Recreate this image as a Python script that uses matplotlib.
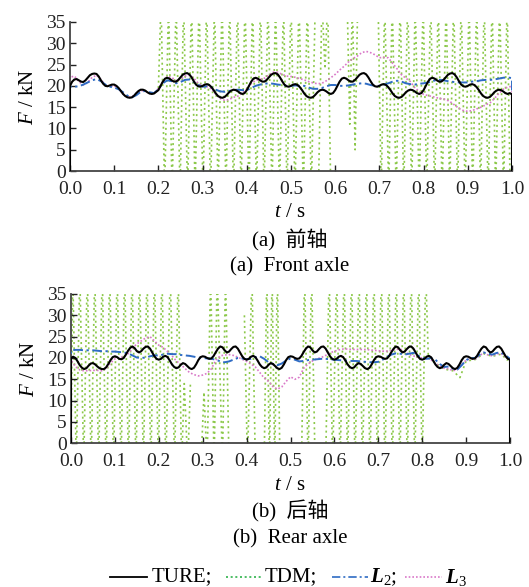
import numpy as np
import matplotlib
matplotlib.use("Agg")
import matplotlib.pyplot as plt
from matplotlib.lines import Line2D

plt.rcParams['font.family'] = ['Liberation Serif', 'Noto Sans CJK SC', 'DejaVu Sans']
plt.rcParams['mathtext.fontset'] = 'custom'
plt.rcParams['mathtext.rm'] = 'Liberation Serif'
plt.rcParams['mathtext.it'] = 'Liberation Serif:italic'
plt.rcParams['mathtext.bf'] = 'Liberation Serif:bold:italic'

# ---------------- data ----------------
x_ticks = [0.0, 0.1, 0.2, 0.3, 0.4, 0.5, 0.6, 0.7, 0.8, 0.9, 1.0]
y_ticks = [0, 5, 10, 15, 20, 25, 30, 35]

# TURE, sampled every 0.005 s from 0 to 1 s (front axle)
ture_front = [
    20.0, 21.0, 21.5, 21.6, 21.3, 21.0, 20.9, 21.3, 21.9, 22.5,
    22.8, 22.9, 22.8, 22.2, 21.3, 20.5, 20.0, 19.9, 20.1, 20.3,
    20.3, 20.0, 19.5, 18.8, 18.1, 17.6, 17.3, 17.2, 17.3, 17.7,
    18.3, 18.8, 19.1, 19.1, 18.9, 18.5, 18.2, 18.1, 18.2, 18.6,
    19.0, 20.0, 21.0, 21.7, 21.9, 21.7, 21.3, 21.0, 21.0, 21.4,
    22.0, 22.6, 22.9, 23.0, 22.7, 22.0, 21.1, 20.3, 19.9, 19.8,
    20.0, 20.3, 20.4, 20.2, 19.7, 19.0, 18.2, 17.6, 17.3, 17.2,
    17.4, 17.9, 18.5, 18.9, 19.1, 19.0, 18.7, 18.3, 18.1, 18.3,
    19.0, 20.0, 21.0, 21.7, 21.9, 21.7, 21.3, 21.0, 21.0, 21.4,
    22.0, 22.6, 22.9, 23.0, 22.7, 22.0, 21.1, 20.3, 19.9, 19.8,
    20.0, 20.3, 20.4, 20.2, 19.7, 19.0, 18.2, 17.6, 17.3, 17.2,
    17.4, 17.9, 18.5, 18.9, 19.1, 19.0, 18.7, 18.3, 18.1, 18.3,
    19.0, 20.0, 21.0, 21.7, 21.9, 21.7, 21.3, 21.0, 21.0, 21.4,
    22.0, 22.6, 22.9, 23.0, 22.7, 22.0, 21.1, 20.3, 19.9, 19.8,
    20.0, 20.3, 20.4, 20.2, 19.7, 19.0, 18.2, 17.6, 17.3, 17.2,
    17.4, 17.9, 18.5, 18.9, 19.1, 19.0, 18.7, 18.3, 18.1, 18.3,
    19.0, 20.0, 21.0, 21.7, 21.9, 21.7, 21.3, 21.0, 21.0, 21.4,
    22.0, 22.6, 22.9, 23.0, 22.7, 22.0, 21.1, 20.3, 19.9, 19.8,
    20.0, 20.3, 20.4, 20.2, 19.7, 19.0, 18.2, 17.6, 17.3, 17.2,
    17.4, 17.9, 18.5, 18.9, 19.1, 19.0, 18.7, 18.3, 18.1, 18.3,
    18.0]

# TURE, sampled every 0.005 s (rear axle)
ture_rear = [
    20.0, 20.3, 20.0, 19.2, 18.3, 17.7, 17.4, 17.6, 18.2, 18.7,
    18.8, 18.5, 18.0, 17.6, 17.4, 17.4, 17.8, 18.6, 19.5, 20.2,
    20.4, 20.2, 19.8, 19.7, 20.0, 20.8, 21.7, 22.4, 22.7, 22.3,
    21.6, 21.3, 21.6, 22.2, 22.6, 22.7, 22.2, 21.3, 20.4, 19.8,
    19.6, 19.8, 20.3, 20.5, 20.2, 19.4, 18.5, 17.9, 17.6, 17.8,
    18.4, 18.8, 18.6, 18.1, 17.6, 17.4, 17.7, 18.5, 19.5, 20.2,
    20.4, 20.3, 20.0, 19.8, 19.9, 20.5, 21.4, 22.2, 22.7, 22.5,
    21.8, 21.3, 21.5, 22.1, 22.6, 22.7, 22.2, 21.3, 20.4, 19.8,
    19.6, 19.8, 20.3, 20.5, 20.2, 19.4, 18.5, 17.9, 17.6, 17.8,
    18.4, 18.8, 18.6, 18.1, 17.6, 17.4, 17.7, 18.5, 19.5, 20.2,
    20.4, 20.3, 20.0, 19.8, 19.9, 20.5, 21.4, 22.2, 22.7, 22.5,
    21.8, 21.3, 21.5, 22.1, 22.6, 22.7, 22.2, 21.3, 20.4, 19.8,
    19.6, 19.8, 20.3, 20.5, 20.2, 19.4, 18.5, 17.9, 17.6, 17.8,
    18.4, 18.8, 18.6, 18.1, 17.6, 17.4, 17.7, 18.5, 19.5, 20.2,
    20.4, 20.3, 20.0, 19.8, 19.9, 20.5, 21.4, 22.2, 22.7, 22.5,
    21.8, 21.3, 21.5, 22.1, 22.6, 22.7, 22.2, 21.3, 20.4, 19.8,
    19.6, 19.8, 20.3, 20.5, 20.2, 19.4, 18.5, 17.9, 17.6, 17.8,
    18.4, 18.8, 18.6, 18.1, 17.6, 17.4, 17.7, 18.5, 19.5, 20.2,
    20.4, 20.3, 20.0, 19.8, 19.9, 20.5, 21.4, 22.2, 22.7, 22.5,
    21.8, 21.3, 21.5, 22.1, 22.6, 22.7, 22.2, 21.3, 20.4, 19.8,
    19.6]

# L2 and L3, sampled every 0.01 s
l2_front = [
    19.8, 19.8, 19.9, 20.3, 20.8, 21.3, 21.6, 21.1, 20.3, 19.8,
    19.6, 19.2, 18.5, 17.7, 17.3, 17.8, 18.6, 18.8, 18.5, 18.3,
    19.2, 20.6, 21.3, 21.1, 20.6, 20.9, 21.4, 21.5, 20.9, 20.2,
    19.8, 19.9, 19.7, 19.1, 18.7, 18.6, 18.8, 19.0, 19.1, 19.0,
    19.0, 19.5, 20.0, 20.3, 20.5, 20.6, 20.5, 20.3, 20.2, 20.0,
    20.0, 20.1, 20.0, 20.0, 19.6, 19.3, 19.3, 19.5, 19.9, 20.2,
    20.2, 20.0, 20.0, 20.1, 20.3, 20.5, 20.6, 20.5, 20.2, 20.0,
    20.0, 20.3, 20.6, 21.0, 21.2, 21.0, 20.6, 20.4, 20.3, 20.5,
    20.6, 20.8, 21.1, 21.4, 21.4, 21.2, 21.0, 20.9, 20.8, 20.8,
    20.8, 21.0, 21.1, 21.3, 21.4, 21.4, 21.5, 21.7, 21.9, 22.0,
    21.8]

l3_front = [
    22.0, 22.3, 21.0, 20.2, 20.8, 22.0, 22.5, 21.5, 20.2, 19.9,
    20.0, 19.3, 18.1, 17.4, 17.4, 18.2, 18.9, 18.8, 18.2, 18.2,
    19.4, 21.0, 22.2, 22.0, 21.2, 21.5, 22.3, 22.5, 21.8, 20.6,
    20.0, 19.8, 19.3, 18.0, 17.0, 16.6, 16.8, 17.3, 17.6, 18.3,
    19.3, 20.5, 21.3, 21.5, 21.8, 22.6, 23.2, 23.2, 22.7, 22.3,
    22.2, 22.0, 21.7, 21.4, 21.0, 20.7, 20.5, 20.6, 21.2, 21.9,
    22.7, 23.7, 24.6, 25.6, 26.4, 27.0, 27.8, 28.1, 27.8, 27.3,
    26.6, 26.7, 26.6, 25.3, 24.0, 22.6, 21.8, 21.0, 19.6, 18.7,
    18.0, 17.7, 17.5, 17.2, 17.0, 16.8, 16.3, 15.5, 14.7, 14.2,
    14.0, 14.2, 14.6, 15.0, 15.5, 16.0, 17.0, 18.2, 19.2, 19.7,
    19.9]

l2_rear = [
    21.8, 21.9, 21.9, 21.8, 21.8, 21.8, 21.7, 21.6, 21.6, 21.5,
    21.5, 21.4, 21.3, 21.1, 20.6, 20.1, 20.0, 20.1, 20.4, 20.6,
    20.6, 20.8, 21.0, 20.9, 20.9, 20.7, 20.6, 20.5, 20.3, 20.1,
    20.0, 19.9, 19.8, 19.6, 19.2, 19.0, 19.2, 19.6, 20.0, 19.9,
    19.7, 19.8, 20.2, 20.4, 19.8, 19.0, 18.6, 18.3, 18.7, 19.4,
    19.9, 19.6, 19.2, 19.3, 19.5, 19.6, 19.7, 19.8, 19.8, 19.7,
    19.6, 19.5, 19.4, 19.4, 19.3, 19.3, 19.2, 19.1, 19.0, 19.0,
    19.1, 19.6, 20.3, 20.8, 21.1, 21.0, 20.8, 21.0, 21.2, 20.6,
    20.0, 19.8, 20.0, 19.6, 18.6, 17.9, 18.0, 17.5, 17.3, 18.3,
    19.5, 20.0, 20.0, 20.7, 21.3, 21.0, 20.8, 21.2, 21.3, 20.6,
    19.8]

l3_rear = [
    19.5, 18.0, 17.2, 17.0, 17.0, 17.1, 17.1, 17.0, 17.5, 18.8,
    19.8, 20.1, 20.3, 21.0, 22.3, 23.3, 24.0, 24.7, 25.0, 24.0,
    23.0, 22.5, 21.5, 20.5, 19.3, 18.5, 17.5, 16.6, 16.1, 15.8,
    16.0, 16.4, 17.5, 19.5, 20.5, 20.7, 20.8, 20.6, 20.2, 19.7,
    19.2, 18.6, 17.9, 16.6, 15.3, 14.5, 13.3, 12.7, 13.2, 14.5,
    15.6, 15.0, 15.5, 17.6, 18.6, 19.3, 19.8, 20.1, 20.6, 21.2,
    21.6, 21.9, 22.1, 22.1, 22.0, 22.0, 22.0, 22.0, 21.9, 21.8,
    21.7, 21.6, 21.6, 21.8, 22.0, 22.1, 21.5, 20.8, 20.5, 20.2,
    20.0, 20.0, 19.6, 18.8, 18.0, 17.6, 17.5, 17.0, 17.3, 18.5,
    19.5, 19.8, 19.7, 20.5, 21.2, 20.7, 20.5, 21.0, 21.0, 20.3,
    19.8]

# TDM: turning points of the oscillating estimate (values beyond the axis are clipped)
tdm_front_t1 = [0.200, 0.206, 0.214, 0.223, 0.231, 0.240, 0.249, 0.257, 0.266, 0.275,
                0.283, 0.292, 0.301, 0.309, 0.318, 0.327, 0.335, 0.344, 0.353, 0.361,
                0.370, 0.379, 0.387, 0.396, 0.405, 0.413, 0.422, 0.431, 0.439, 0.448,
                0.457, 0.465, 0.474, 0.483, 0.491, 0.500, 0.509, 0.518, 0.528, 0.537,
                0.546, 0.555]
tdm_front_f1 = [19.5, 40, -5, 40, -5, 40, -5, 40, -5, 40,
                -5, 40, -5, 40, -5, 40, -5, 40, -5, 40,
                -5, 40, -5, 40, -5, 40, -5, 40, -5, 40,
                -5, 40, -5, 40, -5, 40, -5, 40, -5, 40,
                -5, 40]
tdm_front_t2 = [0.562, 0.570, 0.577, 0.583, 0.590]
tdm_front_f2 = [-5, 40, 24, 40, -5]
tdm_front_t3 = [0.627, 0.633, 0.639, 0.645, 0.651]
tdm_front_f3 = [40, 11, 40, 5, 40]
tdm_front_t4 = [0.697, 0.704, 0.712, 0.721, 0.729, 0.738, 0.747, 0.755, 0.764, 0.773,
                0.781, 0.790, 0.799, 0.807, 0.816, 0.825, 0.833, 0.842, 0.851, 0.859,
                0.868, 0.877, 0.885, 0.894, 0.903, 0.911, 0.920, 0.929, 0.937, 0.946,
                0.955, 0.963, 0.972, 0.981, 0.989, 0.996]
tdm_front_f4 = [40, -5, 40, -5, 40, -5, 40, -5, 40, -5,
                40, -5, 40, -5, 40, -5, 40, -5, 40, -5,
                40, -5, 40, -5, 40, -5, 40, -5, 40, -5,
                40, -5, 40, -5, 40, -5]

tdm_rear_t1 = [0.000, 0.004, 0.012, 0.020, 0.029, 0.037, 0.046, 0.054, 0.063, 0.071,
               0.080, 0.088, 0.097, 0.105, 0.114, 0.122, 0.131, 0.139, 0.148, 0.156,
               0.165, 0.173, 0.182, 0.190, 0.199, 0.207, 0.216, 0.226, 0.236, 0.244,
               0.252, 0.258, 0.266, 0.272]
tdm_rear_f1 = [0, 40, -5, 40, -5, 40, -5, 40, -5, 40,
               -5, 40, -5, 40, -5, 40, -5, 40, -5, 40,
               -5, 40, -5, 40, -5, 40, -5, 40, -5, 40,
               -5, 14, -5, 14]
tdm_rear_t2 = [0.296, 0.303, 0.310, 0.318, 0.326, 0.333, 0.345, 0.352, 0.360]
tdm_rear_f2 = [-5, 12, -5, 40, -5, 40, -5, 40, -5]
tdm_rear_t3 = [0.395, 0.402, 0.412, 0.420]
tdm_rear_f3 = [30, -5, 40, -5]
tdm_rear_t4 = [0.440, 0.446, 0.452, 0.458, 0.464, 0.470, 0.476]
tdm_rear_f4 = [-5, 40, -5, 40, -5, 40, -5]
tdm_rear_t5 = [0.525, 0.532, 0.540, 0.548, 0.556]
tdm_rear_f5 = [-5, 40, -5, 40, -5]
tdm_rear_t6 = [0.580, 0.588, 0.596, 0.605, 0.613, 0.622, 0.630, 0.639, 0.647, 0.656,
               0.664, 0.673, 0.681, 0.690, 0.698, 0.707, 0.715, 0.724, 0.732, 0.741,
               0.749, 0.758, 0.766, 0.775, 0.783, 0.792, 0.800, 0.808,
               0.814, 0.830, 0.850, 0.870, 0.886, 0.900, 0.920, 0.940, 0.960, 0.980,
               0.995]
tdm_rear_f6 = [-5, 40, -5, 40, -5, 40, -5, 40, -5, 40,
               -5, 40, -5, 40, -5, 40, -5, 40, -5, 40,
               -5, 40, -5, 40, -5, 40, -5, 40,
               20.0, 18.8, 17.4, 17.0, 15.4, 19.3, 19.6, 21.0, 20.4, 20.9,
               19.4]

# ---------------- helpers ----------------
t_fine = np.linspace(0.0, 1.0, len(ture_front))
t_coarse = np.linspace(0.0, 1.0, len(l2_front))


def with_ends(t, v):
    return np.r_[0.0, t, 1.0], np.r_[0.0, v, 0.0]


def join_segments(ts, fs):
    xs, ys = [], []
    for t, f in zip(ts, fs):
        xs.extend(list(t) + [np.nan])
        ys.extend(list(f) + [np.nan])
    return np.array(xs), np.array(ys)


C_TURE = 'black'
C_TDM = '#8cc84a'
C_L2 = '#2f6cc4'
C_L3 = '#d978c8'
LS_TDM = (0, (1.2, 2.0))
LS_L2 = (0, (5, 1.8, 1.2, 1.8))
LS_L3 = (0, (1, 1.2))

fig = plt.figure(figsize=(5.29, 5.87), dpi=100)
W, H = 529.0, 587.0
ax_a = fig.add_axes([70 / W, 1 - 171 / H, 442 / W, 149 / H])
ax_b = fig.add_axes([71 / W, 1 - 443.3 / H, 439 / W, 149.3 / H])

panels = [
    (ax_a, ture_front, l2_front, l3_front,
     join_segments([tdm_front_t1, tdm_front_t2, tdm_front_t3, tdm_front_t4],
                   [tdm_front_f1, tdm_front_f2, tdm_front_f3, tdm_front_f4])),
    (ax_b, ture_rear, l2_rear, l3_rear,
     join_segments([tdm_rear_t1, tdm_rear_t2, tdm_rear_t3, tdm_rear_t4, tdm_rear_t5, tdm_rear_t6],
                   [tdm_rear_f1, tdm_rear_f2, tdm_rear_f3, tdm_rear_f4, tdm_rear_f5, tdm_rear_f6])),
]

for ax, ture, l2, l3, (tt, tf) in panels:
    ax.plot(tt, tf, color=C_TDM, lw=1.2, ls=LS_TDM, zorder=1)
    x, y = with_ends(t_coarse, l3)
    ax.plot(x, y, color=C_L3, lw=1.2, ls=LS_L3, zorder=2)
    x, y = with_ends(t_coarse, l2)
    ax.plot(x, y, color=C_L2, lw=1.4, ls=LS_L2, zorder=3)
    x, y = with_ends(t_fine, ture)
    ax.plot(x, y, color=C_TURE, lw=1.5, zorder=4)
    ax.set_xlim(0, 1.0)
    ax.set_ylim(0, 35)
    ax.set_xticks(x_ticks)
    ax.set_xticklabels([f"{v:.1f}" for v in x_ticks])
    ax.set_yticks(y_ticks)
    ax.tick_params(direction='in', length=4, width=1.0, labelsize=14, colors='#222222')
    ax.tick_params(axis='x', pad=7)
    ax.tick_params(axis='y', pad=3)
    for s in ['top', 'right']:
        ax.spines[s].set_visible(False)
    for s in ['left', 'bottom']:
        ax.spines[s].set_linewidth(1.3)
        ax.spines[s].set_color('#444444')
    ax.set_ylabel(r"$F$ / kN", fontsize=15, labelpad=6)

fs = 15
cx = 290 / W
fig.text(cx, 1 - 213 / H, r"$t$ / s", ha='center', va='center', fontsize=fs)
fig.text(cx, 1 - 240 / H, "(a)  前轴", ha='center', va='center', fontsize=fs)
fig.text(cx, 1 - 267 / H, "(a)  Front axle", ha='center', va='center', fontsize=fs)
fig.text(cx, 1 - 485 / H, r"$t$ / s", ha='center', va='center', fontsize=fs)
fig.text(cx, 1 - 511 / H, "(b)  后轴", ha='center', va='center', fontsize=fs)
fig.text(cx, 1 - 539 / H, "(b)  Rear axle", ha='center', va='center', fontsize=fs)

# legend row
ly = 1 - 577 / H
items = [
    (110, 147, C_TURE, '-', 1.3, 152, "TURE;"),
    (226, 263, '#2db34a', (0, (1.2, 1.6)), 1.2, 265, "TDM;"),
    (332, 368, C_L2, LS_L2, 1.2, 370, r"$\mathbf{L}_2$;"),
    (405, 442, C_L3, LS_L3, 1.2, 445, r"$\mathbf{L}_3$"),
]
for x0, x1, c, ls, lw, tx, label in items:
    fig.add_artist(Line2D([x0 / W, x1 / W], [ly, ly], color=c, ls=ls, lw=lw,
                          transform=fig.transFigure))
    fig.text(tx / W, ly, label, ha='left', va='center', fontsize=fs)

fig.savefig("out.png", dpi=100, facecolor='white')
